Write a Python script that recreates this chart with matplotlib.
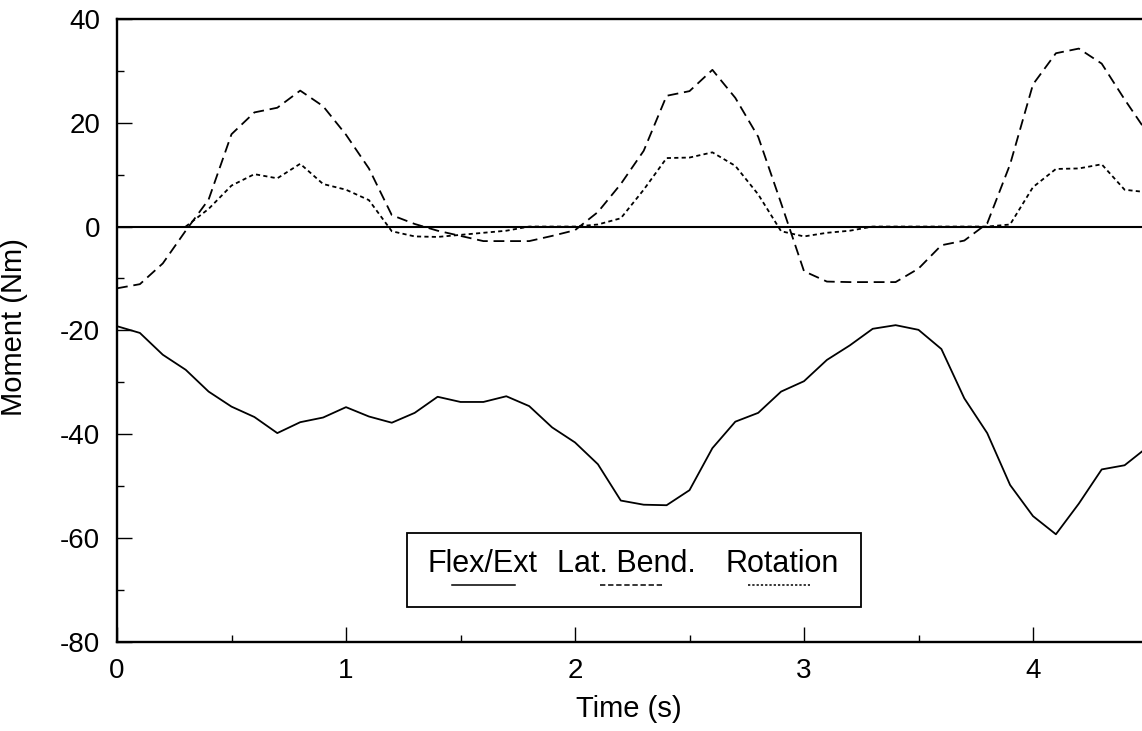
import matplotlib
matplotlib.use("Agg")
import matplotlib.pyplot as plt
from matplotlib.ticker import MultipleLocator
from matplotlib.patches import Rectangle
from matplotlib.lines import Line2D

plt.rcParams['font.family'] = ['Liberation Sans', 'DejaVu Sans']
plt.rcParams['axes.unicode_minus'] = False

# Sample times (s)
time_s = [0.0, 0.1, 0.2, 0.3, 0.4, 0.5, 0.6, 0.7, 0.8, 0.9,
          1.0, 1.1, 1.2, 1.3, 1.4, 1.5, 1.6, 1.7, 1.8, 1.9,
          2.0, 2.1, 2.2, 2.3, 2.4, 2.5, 2.6, 2.7, 2.8, 2.9,
          3.0, 3.1, 3.2, 3.3, 3.4, 3.5, 3.6, 3.7, 3.8, 3.9,
          4.0, 4.1, 4.2, 4.3, 4.4, 4.5]

# Moments (Nm)
flex_ext = [-19.2, -20.5, -24.7, -27.6, -31.8, -34.7, -36.7, -39.8, -37.7, -36.8,
            -34.8, -36.6, -37.8, -35.9, -32.8, -33.8, -33.8, -32.7, -34.6, -38.7,
            -41.6, -45.8, -52.8, -53.6, -53.7, -50.8, -42.7, -37.6, -35.9, -31.8,
            -29.8, -25.7, -22.9, -19.7, -19.0, -19.9, -23.6, -33.1, -39.8, -49.8,
            -55.8, -59.3, -53.4, -46.8, -46.0, -42.5]

lat_bend = [-11.9, -11.1, -7.1, -0.8, 5.2, 17.8, 22.0, 22.9, 26.2, 23.2,
            17.7, 11.2, 2.2, 0.5, -0.8, -1.8, -2.8, -2.8, -2.8, -1.8,
            -0.7, 2.8, 8.2, 14.6, 25.2, 26.1, 30.2, 24.8, 17.3, 4.5,
            -8.6, -10.6, -10.7, -10.7, -10.7, -8.1, -3.6, -2.7, 0.6, 12.0,
            27.4, 33.4, 34.3, 31.4, 24.5, 18.0]

# Rotation is recorded from 0.3 s onward
rotation_time = time_s[3:]
rotation = [0.0, 3.4, 7.9, 10.1, 9.3, 12.1, 8.2,
            7.1, 5.1, -0.9, -1.9, -2.0, -1.6, -1.2, -0.8, 0.0, 0.0,
            0.0, 0.4, 1.6, 7.1, 13.2, 13.3, 14.3, 11.7, 6.2, -0.9,
            -1.9, -1.2, -0.8, 0.0, 0.0, 0.0, 0.0, 0.0, 0.0, 0.4,
            7.6, 11.1, 11.2, 12.0, 7.1, 6.6]

x_ticks = [0, 1, 2, 3, 4]
y_ticks = [-80, -60, -40, -20, 0, 20, 40]
legend_labels = ["Flex/Ext", "Lat. Bend.", "Rotation"]

W, H = 1142, 731
fig = plt.figure(figsize=(W / 100, H / 100), dpi=100)
left_px, right_px, top_px, bottom_px = 117, 117 + 4.5 * 229, 19, 641.7
ax = fig.add_axes([left_px / W, 1 - bottom_px / H,
                   (right_px - left_px) / W, (bottom_px - top_px) / H])

lw = 1.3
ax.axhline(0, color='black', lw=1.5, zorder=1)
ax.plot(time_s, flex_ext, color='black', lw=lw)
ax.plot(time_s, lat_bend, color='black', lw=lw, dashes=[6.0, 3.2])
ax.plot(rotation_time, rotation, color='black', lw=lw, dashes=[2.3, 1.8])

ax.set_xlim(0, 4.5)
ax.set_ylim(-80, 40)
ax.set_xticks(x_ticks)
ax.set_yticks(y_ticks)
ax.xaxis.set_minor_locator(MultipleLocator(0.5))
ax.yaxis.set_minor_locator(MultipleLocator(10))
ax.tick_params(which='both', direction='in', colors='black', labelsize=20,
               top=False, right=False)
ax.tick_params(which='major', length=11, width=1.0)
ax.tick_params(which='minor', length=5, width=1.0)
ax.tick_params(axis='y', pad=12)
ax.tick_params(axis='x', pad=12)

for side in ['left', 'top', 'bottom']:
    ax.spines[side].set_linewidth(1.7)
ax.spines['right'].set_visible(False)

ax.set_xlabel("Time (s)", fontsize=21)
ax.set_ylabel("Moment (Nm)", fontsize=21)
ax.xaxis.set_label_coords((629 - left_px) / (right_px - left_px), -0.085)
ax.yaxis.set_label_coords((28 - left_px) / (right_px - left_px), 0.505)


# Legend box: labels with their line samples underneath
def fx(px):
    return (px - left_px) / (right_px - left_px)


def fy(py):
    return (bottom_px - py) / (bottom_px - top_px)


box = Rectangle((fx(406.7), fy(607.3)), fx(861) - fx(406.7), fy(533.3) - fy(607.3),
                transform=ax.transAxes, fill=True, facecolor='white',
                edgecolor='black', lw=1.3, zorder=5)
ax.add_patch(box)

label_x = [428, 556.7, 725]
sample_span = [(451.7, 515), (600, 663.3), (748.3, 810)]
sample_dash = [None, [3.5, 1.8], [1.5, 1.3]]
sample_y = fy(585)
for label, x0, (s0, s1), dash in zip(legend_labels, label_x, sample_span, sample_dash):
    ax.text(fx(x0), fy(571.7), label, transform=ax.transAxes,
            fontsize=22, ha='left', va='baseline', zorder=6)
    ln = Line2D([fx(s0), fx(s1)], [sample_y, sample_y], transform=ax.transAxes,
                color='black', lw=1.1, zorder=6)
    if dash is not None:
        ln.set_dashes(dash)
    ax.add_line(ln)

fig.savefig("out.png", dpi=100)
